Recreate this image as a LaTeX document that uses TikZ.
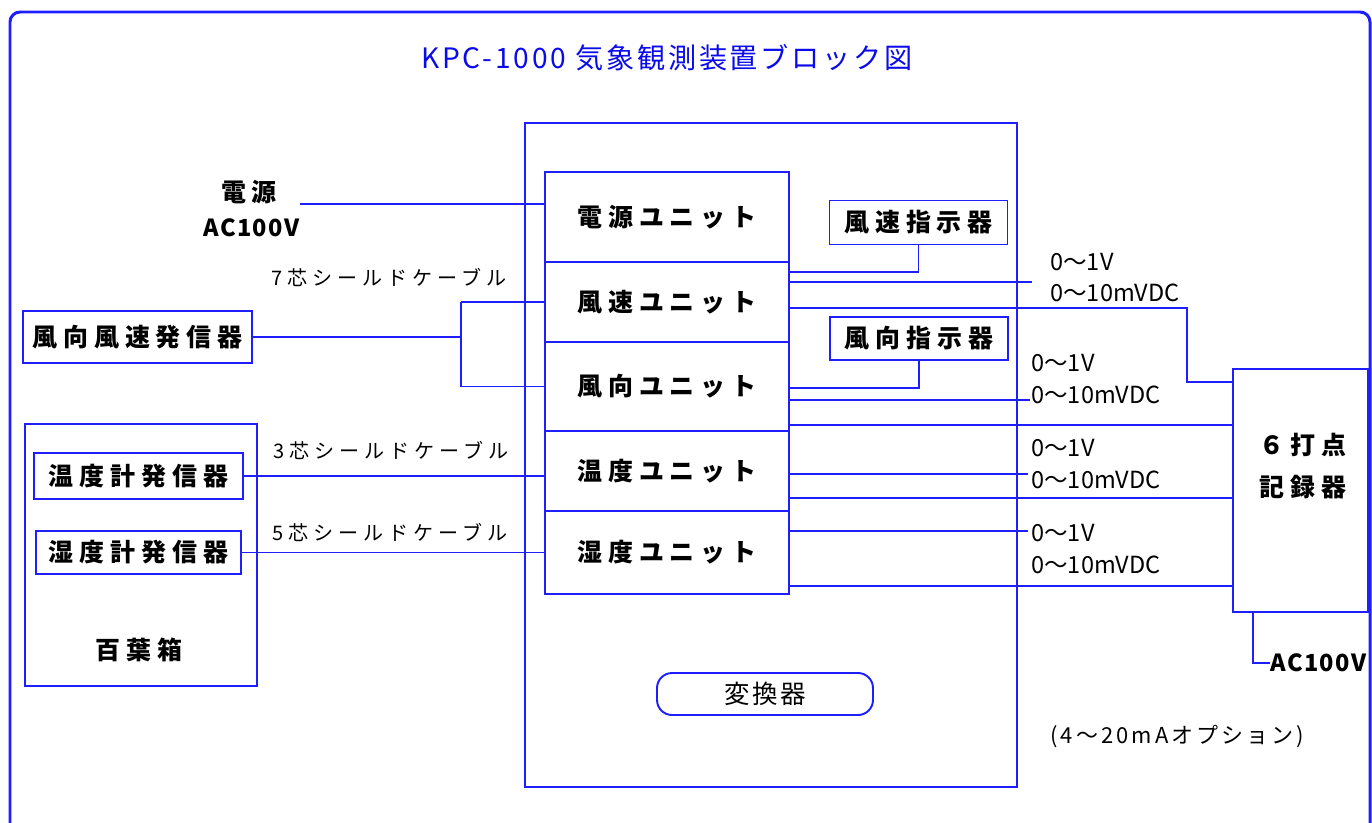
\documentclass[tikz,border=0pt]{standalone}
\usepackage{fontspec}
\setmainfont{Noto Sans CJK JP}
\usetikzlibrary{calc,positioning}
\definecolor{lineblue}{RGB}{30,30,255}
\definecolor{titleblue}{RGB}{10,10,235}

\begin{document}
\begin{tikzpicture}[x=0.02cm,y=-0.02cm,
	  every node/.style={align=center,inner sep=0pt},
	  box/.style={draw=lineblue,line width=1.1pt},
	  blockfont/.style={font=\fontsize{14.2}{24}\selectfont\bfseries\addfontfeature{LetterSpace=24}},
	  unit/.style={box,blockfont,minimum width=4.88cm},
	  indicator/.style={box,blockfont,minimum width=3.56cm,minimum height=0.88cm},
	  acfont/.style={font=\fontsize{13.4}{16}\selectfont\bfseries\addfontfeature{LetterSpace=6}},
	  cable/.style={font=\fontsize{11.4}{14}\selectfont\addfontfeature{LetterSpace=25}},
	  signal/.style={anchor=west,font=\fontsize{13.4}{16}\selectfont},
	  wire/.style={draw=lineblue,line width=1.1pt},
	  frame/.style={draw=lineblue,line width=1.7pt,rounded corners=0.2cm}]

	  \useasboundingbox (0,0) rectangle (1372,822);
	  \clip (0,0) rectangle (1372,822);

	  % outer frame and title
	  \draw[frame] (10,900) -- (10,12) -- (1370,12) -- (1370,900);
	  \node[text=titleblue,font=\fontsize{16}{18}\selectfont\addfontfeature{LetterSpace=10}] (title) at (667,58) {KPC-1000 気象観測装置ブロック図};

	  % converter with its units
	  \node[box,minimum width=9.84cm,minimum height=13.28cm] (conv) at (771,455) {};
	  \node[unit,minimum height=1.8cm] (psu) at (667,217) {電源ユニット};
	  \node[unit,minimum height=1.6cm] (spd) at (667,302) {風速ユニット};
	  \node[unit,minimum height=1.78cm] (dir) at (667,386.5) {風向ユニット};
	  \node[unit,minimum height=1.6cm] (tmp) at (667,471) {温度ユニット};
	  \node[unit,minimum height=1.66cm] (hum) at (667,552.5) {湿度ユニット};
	  \node[box,rounded corners=0.3cm,minimum width=4.32cm,minimum height=0.84cm,font=\fontsize{14.5}{17}\selectfont\addfontfeature{LetterSpace=10}] (convlabel) at (765,694) {変換器};
	  \node[indicator] (spdind) at (918.5,222.5) {風速指示器};
	  \node[indicator,minimum height=0.86cm] (dirind) at (919,338.5) {風向指示器};

	  % left side
	  \node[blockfont] (mains) at (249,192) {電源};
	  \node[acfont] (acleft) at (251.5,228) {AC100V};
	  \coordinate (mainsend) at (300,204);
	  \node[box,blockfont,minimum width=4.58cm,minimum height=1.04cm] (sender) at (137.5,337) {風向風速発信器};
	  \node[box,minimum width=4.64cm,minimum height=5.24cm] (shelter) at (141,555) {};
	  \node[blockfont] (shelterlabel) at (139,650) {百葉箱};
	  \node[box,blockfont,minimum width=4.18cm,minimum height=0.92cm] (tsend) at (138.5,476) {温度計発信器};
	  \node[box,blockfont,minimum width=4.1cm,minimum height=0.86cm] (hsend) at (138.5,552.5) {湿度計発信器};
	  \node[cable] (cable7) at (389,278) {7芯シールドケーブル};
	  \node[cable] (cable3) at (391,450) {3芯シールドケーブル};
	  \node[cable] (cable5) at (390,532) {5芯シールドケーブル};
	  \coordinate (tap) at (461,339);

	  % right side
	  \node[box,minimum width=2.7cm,minimum height=4.86cm] (rec) at (1300.5,490.5) {};
	  \node[blockfont] (rectext) at (1303,466) {６打点\\記録器};
	  \node[acfont,anchor=west] (acright) at (1270,663) {AC100V};
	  \coordinate (o1) at (1032,282);
	  \coordinate (o2) at (1030,400);
	  \coordinate (o3) at (1028,474);
	  \coordinate (o4) at (1028,531);
	  \node[signal] (s1a) at (1050,262) {0〜1V};
	  \node[signal] (s1b) at (1050,293) {0〜10mVDC};
	  \node[signal] (s2a) at (1031,363) {0〜1V};
	  \node[signal] (s2b) at (1031,395) {0〜10mVDC};
	  \node[signal] (s3a) at (1031,448) {0〜1V};
	  \node[signal] (s3b) at (1031,480) {0〜10mVDC};
	  \node[signal] (s4a) at (1031,533) {0〜1V};
	  \node[signal] (s4b) at (1031,565) {0〜10mVDC};
	  \node[signal,font=\fontsize{12.5}{15}\selectfont\addfontfeature{LetterSpace=14}] (option) at (1050,737) {(4〜20mAオプション)};

	  \draw[wire] (mainsend) -- (mainsend -| psu.west);
	  \draw[wire] (sender.east) -- (sender.east -| tap);
	  \draw[wire] (tap |- spd.west) -- (tap |- dir.west);
	  \draw[wire] (tap |- spd.west) -- (spd.west);
	  \draw[wire] (tap |- dir.west) -- (dir.west);
	  \draw[wire] (tsend.east) -- (tsend.east -| tmp.west);
	  \draw[wire] (hsend.east) -- (hsend.east -| hum.west);
	  \draw[wire] (spd.east |- 0,272) -| (spdind.south);
	  \draw[wire] (spd.east |- 0,282) -- (o1);
	  \draw[wire] (spd.east |- 0,308) -- (1187,308) |- (rec.west |- 0,382);
	  \draw[wire] (dir.east |- 0,388) -| (dirind.south);
	  \draw[wire] (dir.east |- 0,400) -- (o2);
	  \draw[wire] (dir.east |- 0,425) -- (rec.west |- 0,425);
	  \draw[wire] (tmp.east |- 0,474) -- (o3);
	  \draw[wire] (tmp.east |- 0,498) -- (rec.west |- 0,498);
	  \draw[wire] (hum.east |- 0,531) -- (o4);
	  \draw[wire] (hum.east |- 0,586) -- (rec.west |- 0,586);
	  \draw[wire] (rec.south -| 1253,0) |- (acright.west);
\end{tikzpicture}
\end{document}
